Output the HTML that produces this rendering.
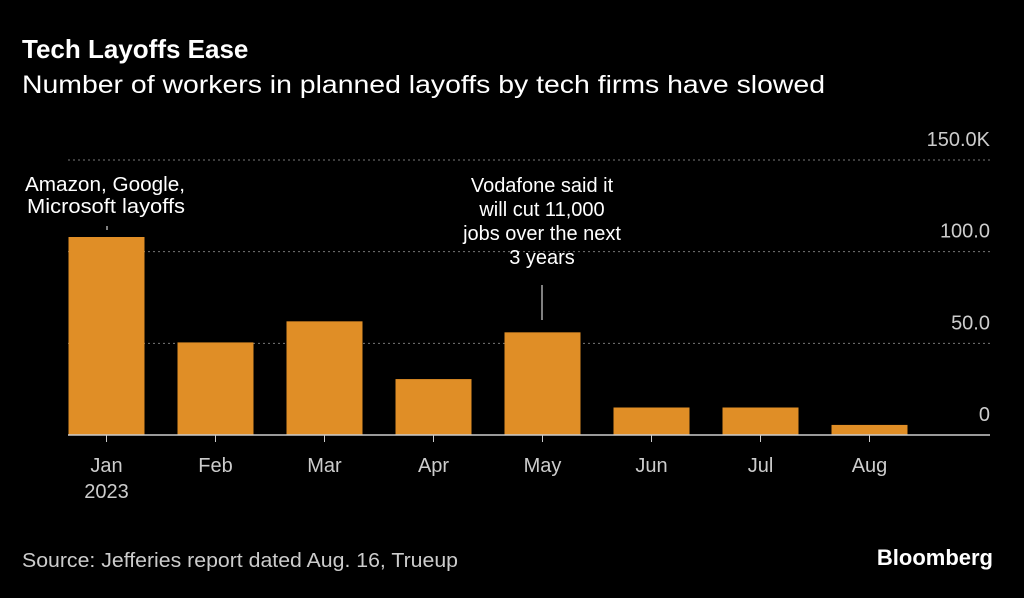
<!DOCTYPE html>
<html><head><meta charset="utf-8"><style>
html,body{margin:0;padding:0;background:#000;}
body{width:1024px;height:593px;overflow:hidden;font-family:"Liberation Sans",sans-serif;color:#fff;}
</style></head><body>
<svg width="1024" height="593" xmlns="http://www.w3.org/2000/svg" font-family="Liberation Sans, sans-serif">
<text x="22" y="58" font-size="26" font-weight="bold" fill="#fff">Tech Layoffs Ease</text>
<text x="22" y="93" font-size="25" fill="#fff" textLength="803" lengthAdjust="spacingAndGlyphs">Number of workers in planned layoffs by tech firms have slowed</text>
<g id="grid"></g><g id="bars"></g><g id="xaxis"></g>
<text x="25" y="191" font-size="20" fill="#fff" textLength="160" lengthAdjust="spacingAndGlyphs">Amazon, Google,</text>
<text x="27" y="213" font-size="20" fill="#fff" textLength="158" lengthAdjust="spacingAndGlyphs">Microsoft layoffs</text>
<line x1="107" y1="226" x2="107" y2="230" stroke="#fff"/>
<g font-size="20" fill="#fff" text-anchor="middle">
<text x="542" y="192">Vodafone said it</text><text x="542" y="216">will cut 11,000</text><text x="542" y="240">jobs over the next</text><text x="542" y="264">3 years</text></g>
<line x1="542" y1="285" x2="542" y2="320" stroke="#fff"/>
<text x="22" y="567" font-size="20" fill="#ccc" textLength="436" lengthAdjust="spacingAndGlyphs">Source: Jefferies report dated Aug. 16, Trueup</text>
<text x="993" y="565" font-size="22" font-weight="bold" fill="#fff" text-anchor="end">Bloomberg</text>
</svg>
<script>
const categories=["Jan","Feb","Mar","Apr","May","Jun","Jul","Aug"];
const values=[108,50.5,62,30.5,56,15,15,5.5];
const ticks=[0,50,100,150];
const tickLabels=["0","50.0","100.0","150.0K"];
const NS="http://www.w3.org/2000/svg";
const y=v=>435-v*(435-160)/150;
const x=i=>106.5+i*109;
function mk(t,a,p){const e=document.createElementNS(NS,t);for(const k in a)e.setAttribute(k,a[k]);p.appendChild(e);return e;}
const g=document.getElementById('grid'),b=document.getElementById('bars'),xa=document.getElementById('xaxis');
ticks.forEach((t,i)=>{
 if(t>0){const l=mk('line',{x1:68,x2:990,y1:y(t),y2:y(t),stroke:'#777','stroke-dasharray':'2,3'},g);
 
 }
 const tx=mk('text',{x:990,y:y(t)-14,'font-size':20,fill:'#ccc','text-anchor':'end'},g);tx.textContent=tickLabels[i];
 
 
});
values.forEach((v,i)=>{
 const r=mk('rect',{x:x(i)-38,y:y(v),width:76,height:435-y(v),fill:'#e08e26'},b);
 
 
 const tk=mk('line',{x1:x(i),x2:x(i),y1:435,y2:442,stroke:'#ccc'},xa);
 
 
 const t=mk('text',{x:x(i),y:472,'font-size':20,fill:'#ccc','text-anchor':'middle'},xa);t.textContent=categories[i];
 
 
});
const yr=mk('text',{x:x(0),y:498,'font-size':20,fill:'#ccc','text-anchor':'middle'},xa);yr.textContent="2023";


const ax=mk('line',{x1:68,x2:990,y1:435,y2:435,stroke:'#ccc','stroke-width':1.5},xa);


</script>
</body></html>
